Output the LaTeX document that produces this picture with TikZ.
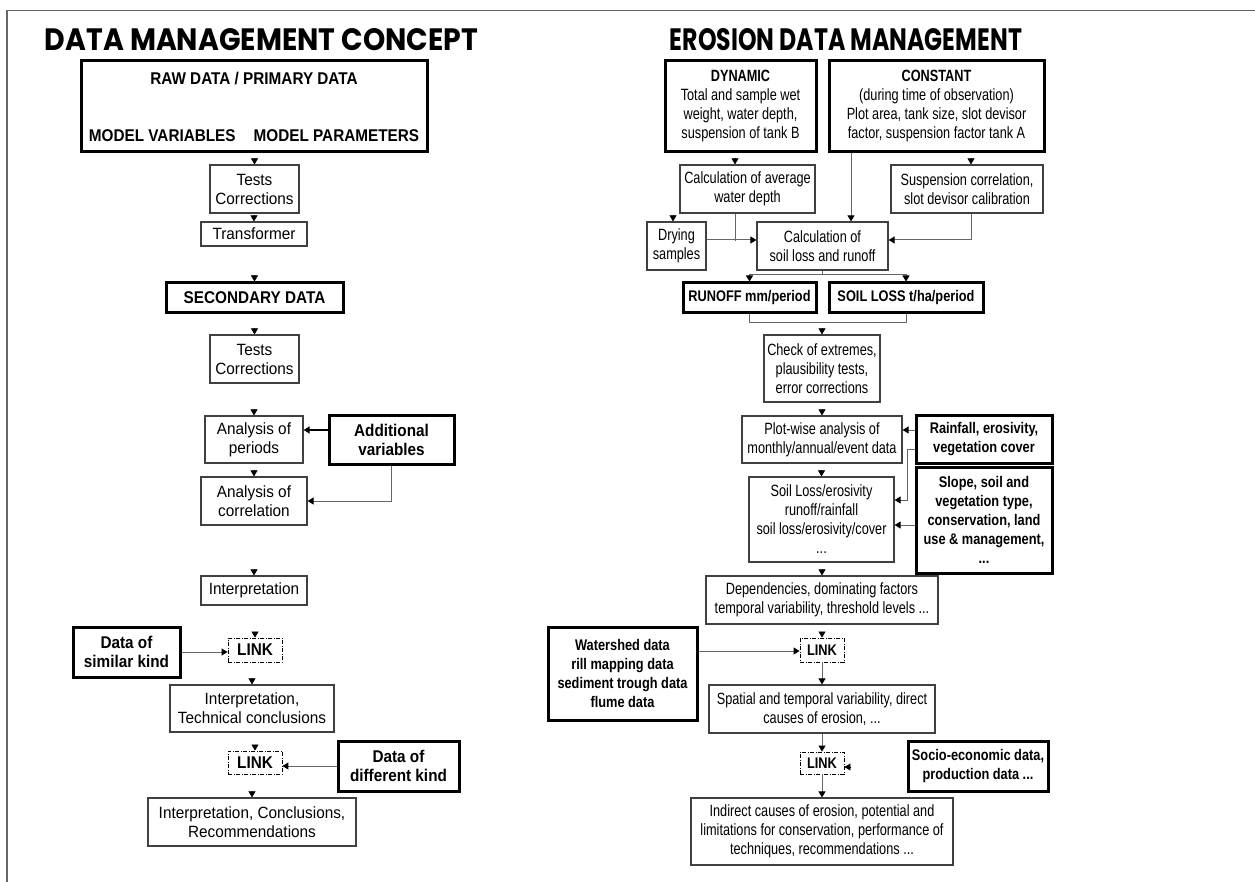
\documentclass[tikz,border=0pt]{standalone}
\usepackage{fontspec}
\usepackage{graphicx}
\setmainfont{Liberation Sans}
\newfontfamily\titlefont{Poppins}
\newfontfamily\lfont[FakeStretch=0.94]{Liberation Sans}
\newfontfamily\lbfont[FakeStretch=0.90]{Liberation Sans}
\newfontfamily\rfont[FakeStretch=0.78]{Liberation Sans}
\newfontfamily\rbfont[FakeStretch=0.83]{Liberation Sans}
\usetikzlibrary{arrows.meta,calc,positioning}
\definecolor{linegray}{gray}{0.4}
\definecolor{boxgray}{gray}{0.25}
\tikzset{
	box/.style={draw=boxgray,line width=1.2pt,inner sep=0pt,align=center},
	heavybox/.style={draw=black,line width=3pt,inner sep=0pt,align=center},
	linkbox/.style={draw=black,line width=0.9pt,dash pattern=on 4pt off 1.5pt on 1pt off 1.5pt,inner sep=0pt,align=center},
	ltext/.style={font=\lfont\fontsize{16.3}{19}\selectfont},
	lbold/.style={font=\lbfont\bfseries\fontsize{17}{19}\selectfont},
	rtext/.style={font=\rfont\fontsize{16.3}{19}\selectfont},
	rbold/.style={font=\rbfont\bfseries\fontsize{15.4}{19}\selectfont},
	conn/.style={draw=linegray,line width=1pt},
	feed/.style={conn,-{Triangle[width=7pt,length=6pt,color=black]}},
	tip/.style={draw=black,line width=0.5pt,-{Triangle[width=7pt,length=6pt]}},
	heading/.style={inner sep=0pt,font=\titlefont\bfseries}
}

\begin{document}
\begin{tikzpicture}[x=1pt,y=-1pt]
		\fill[white] (0,0) rectangle (1255,882);
		\useasboundingbox (0,0) rectangle (1255,882);
		\draw[linegray,line width=1.2pt] (7,882) -- (7,10.5) -- (1255,10.5);

		% data management concept
		\node[heading]	(lefthead)	at (261.5,40)	{\resizebox{433pt}{22pt}{DATA MANAGEMENT CONCEPT}};
		\node[heavybox,lbold,minimum width=346pt,minimum height=91pt]	(raw)		at (254,106.5)	{RAW DATA / PRIMARY DATA\\[38pt]MODEL VARIABLES\hspace{18pt}MODEL PARAMETERS};
		\node[box,ltext,minimum width=89pt,minimum height=48pt]		(tests1)	at (254.5,189)	{Tests\\Corrections};
		\node[box,ltext,minimum width=106pt,minimum height=24pt]		(trans)		at (254,234)	{Transformer};
		\node[heavybox,lbold,minimum width=177pt,minimum height=30pt]	(secd)		at (254.5,298)	{SECONDARY DATA};
		\node[box,ltext,minimum width=89pt,minimum height=48pt]		(tests2)	at (254.5,359)	{Tests\\Corrections};
		\node[box,ltext,minimum width=98pt,minimum height=47pt]		(periods)	at (254,439.5)	{Analysis of\\periods};
		\node[heavybox,lbold,minimum width=125pt,minimum height=49pt]	(addvar)	at (391.5,439.5)	{Additional\\variables};
		\node[box,ltext,minimum width=106pt,minimum height=48pt]		(corr)		at (254,501)	{Analysis of\\correlation};
		\node[box,ltext,minimum width=106pt,minimum height=29pt]		(interp)	at (254,590.5)	{Interpretation};
		\node[linkbox,lbold,minimum width=54pt,minimum height=24pt]	(link1)		at (255,650)	{LINK};
		\node[heavybox,lbold,minimum width=107pt,minimum height=50pt]	(similar)	at (126.5,652)	{Data of\\similar kind};
		\node[box,ltext,minimum width=164pt,minimum height=47pt]		(techc)		at (252,708.5)	{Interpretation,\\Technical conclusions};
		\node[linkbox,lbold,minimum width=54pt,minimum height=23pt]	(link2)		at (255,762.5)	{LINK};
		\node[heavybox,lbold,minimum width=121pt,minimum height=50pt]	(diff)		at (398.5,766)	{Data of\\different kind};
		\node[box,ltext,minimum width=208pt,minimum height=48pt]		(concl)		at (252,822)	{Interpretation, Conclusions,\\Recommendations};

		\foreach \n in {tests1,trans,secd,tests2,periods,corr,interp,link1,techc,link2,concl}
			\draw[tip] ([yshift=6pt]\n.north) -- (\n.north);
		\draw[feed,draw=black,line width=2pt] ([yshift=9.5pt]addvar.west) -- ([yshift=9.5pt]periods.east);
		\draw[feed] (addvar.south) |- (corr.east);
		\draw[feed] (similar.east) -- (similar.east -| link1.west);
		\draw[feed] (diff.west) -- (diff.west -| link2.east);

		% erosion data management
		\node[heading]	(righthead)	at (846,40)	{\resizebox{352pt}{22pt}{EROSION DATA MANAGEMENT}};
		\node[heavybox,rtext,minimum width=151pt,minimum height=91pt]	(dyn)		at (740.5,106.5)	{\textbf{DYNAMIC}\\Total and sample wet\\weight, water depth,\\suspension of tank B};
		\node[heavybox,rtext,minimum width=215pt,minimum height=91pt]	(const)		at (936.5,106.5)	{\textbf{CONSTANT}\\(during time of observation)\\Plot area, tank size, slot devisor\\factor, suspension factor tank A};
		\node[box,rtext,minimum width=135pt,minimum height=48pt]		(avg)		at (747.5,189)	{Calculation of average\\water depth};
		\node[box,rtext,minimum width=152pt,minimum height=48pt]		(susp)		at (967,189)	{Suspension correlation,\\slot devisor calibration};
		\node[box,rtext,minimum width=59pt,minimum height=48pt]		(dry)		at (676.5,246)	{Drying\\samples};
		\node[box,rtext,minimum width=131pt,minimum height=48pt]		(calc)		at (822.5,246)	{Calculation of\\soil loss and runoff};
		\node[heavybox,rbold,minimum width=133pt,minimum height=30pt]	(runoff)	at (749.5,298)	{RUNOFF mm/period};
		\node[heavybox,rbold,minimum width=154pt,minimum height=30pt]	(sloss)		at (906,298)	{SOIL LOSS t/ha/period};
		\node[box,rtext,minimum width=116pt,minimum height=67pt]		(check)		at (822,368.5)	{Check of extremes,\\plausibility tests,\\error corrections};
		\node[box,rtext,minimum width=160pt,minimum height=47pt]		(plot)		at (822,439.5)	{Plot-wise analysis of\\monthly/annual/event data};
		\node[heavybox,rbold,minimum width=136pt,minimum height=48pt]	(rain)		at (984,439)	{Rainfall, erosivity,\\vegetation cover};
		\node[box,rtext,minimum width=145pt,minimum height=85pt]		(ratio)		at (821.5,519.5)	{Soil Loss/erosivity\\runoff/rainfall\\soil loss/erosivity/cover\\...};
		\node[heavybox,rbold,minimum width=136pt,minimum height=106pt]	(slope)		at (984,520)	{Slope, soil and\\vegetation type,\\conservation, land\\use \& management,\\...};
		\node[box,rtext,minimum width=232pt,minimum height=48pt]		(dep)		at (822,600)	{Dependencies, dominating factors\\temporal variability, threshold levels ...};
		\node[linkbox,rbold,minimum width=44pt,minimum height=24pt]	(link3)		at (822,650)	{LINK};
		\node[heavybox,rbold,minimum width=149pt,minimum height=93pt]	(shed)		at (622.5,673.5)	{Watershed data\\rill mapping data\\sediment trough data\\flume data};
		\node[box,rtext,minimum width=226pt,minimum height=48pt]		(spat)		at (822,709)	{Spatial and temporal variability, direct\\causes of erosion, ...};
		\node[linkbox,rbold,minimum width=44pt,minimum height=22pt]	(link4)		at (822,763)	{LINK};
		\node[heavybox,rbold,minimum width=140pt,minimum height=50pt]	(socio)		at (978,766)	{Socio-economic data,\\production data ...};
		\node[box,rtext,minimum width=262pt,minimum height=67pt]		(indir)		at (822,831.5)	{Indirect causes of erosion, potential and\\limitations for conservation, performance of\\techniques, recommendations ...};

		\foreach \n in {check,plot,ratio,dep,link3}
			\draw[tip] ([yshift=6pt]\n.north) -- (\n.north);
		\draw[tip] ([xshift=-12.5pt,yshift=6pt]avg.north) -- ([xshift=-12.5pt]avg.north);
		\draw[tip] ([xshift=4pt,yshift=6pt]susp.north) -- ([xshift=4pt]susp.north);
		\draw[tip] ([xshift=-3.5pt,yshift=6pt]dry.north) -- ([xshift=-3.5pt]dry.north);
		\draw[feed] ([xshift=-85.5pt]const.south) -- ([xshift=28.5pt]calc.north);
		\draw[conn] ([xshift=-12.5pt]avg.south) -- ++(0,27);
		\draw[feed] ([yshift=6pt]dry.east) -- ([yshift=6pt]calc.west);
		\draw[feed] ([xshift=4pt]susp.south) |- ([yshift=6pt]calc.east);
		\draw[feed] (calc.south) -- ++(0,4) -| (runoff.north);
		\draw[feed] (calc.south) -- ++(0,4) -| (sloss.north);
		\draw[conn] (runoff.south) -- ++(0,8) -| (sloss.south);
		\draw[feed] ([yshift=9pt]rain.west) -- ([yshift=9.5pt]plot.east);
		\draw[feed] ([yshift=-10pt]rain.west) -- ++(-7,0) |- ([yshift=19.5pt]ratio.east);
		\draw[feed] ([yshift=-5pt]slope.west) -- ([yshift=-5.5pt]ratio.east);
		\draw[feed] ([yshift=22.5pt]shed.east) -- ([yshift=-1pt]link3.west);
		\draw[feed] (link3.south) -- (spat.north);
		\draw[feed] (spat.south) -- (link4.north);
		\draw[feed] (link4.south) -- (indir.north);
		\draw[tip] ([xshift=7pt,yshift=-4pt]link4.east) -- ([yshift=-4pt]link4.east);
	\end{tikzpicture}
\end{document}
